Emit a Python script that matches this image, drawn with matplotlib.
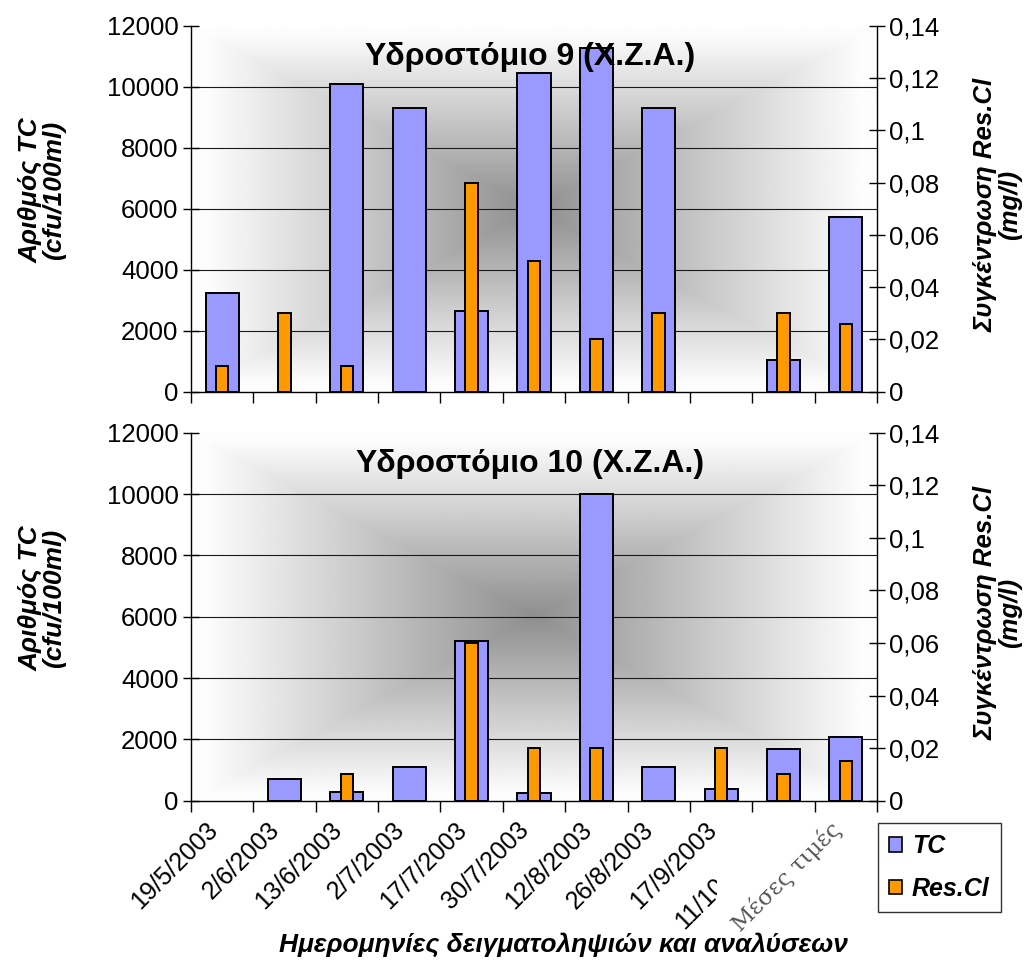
import numpy as np
import matplotlib
matplotlib.use('Agg')
import matplotlib.pyplot as plt
from matplotlib.patches import Patch
from matplotlib.transforms import Bbox, TransformedBbox, ScaledTranslation

plt.rcParams['font.family'] = ['Liberation Sans', 'DejaVu Sans']

# Sampling dates (last column holds the mean values)
categories = ['19/5/2003', '2/6/2003', '13/6/2003', '2/7/2003', '17/7/2003',
              '30/7/2003', '12/8/2003', '26/8/2003', '17/9/2003', '11/10/2003',
              'Μέσες τιμές']

# Hydrant 9: total coliforms (cfu/100ml) and residual chlorine (mg/l)
tc_9 = [3250, 0, 10100, 9300, 2650, 10450, 11270, 9300, 0, 1050, 5730]
cl_9 = [0.01, 0.03, 0.01, 0, 0.08, 0.05, 0.02, 0.03, 0, 0.03, 0.026]

# Hydrant 10
tc_10 = [0, 700, 300, 1100, 5200, 250, 10000, 1100, 370, 1680, 2070]
cl_10 = [0, 0, 0.01, 0, 0.06, 0.02, 0.02, 0, 0.02, 0.01, 0.015]

titles = ['Υδροστόμιο 9 (Χ.Ζ.Α.)', 'Υδροστόμιο 10 (Χ.Ζ.Α.)']
tc_ticks = [0, 2000, 4000, 6000, 8000, 10000, 12000]
cl_ticks = [0, 0.02, 0.04, 0.06, 0.08, 0.10, 0.12, 0.14]
cl_ticklabels = ['0', '0,02', '0,04', '0,06', '0,08', '0,1', '0,12', '0,14']

left_label = 'Αριθμός TC\n(cfu/100ml)'
right_label = 'Συγκέντρωση Res.Cl\n(mg/l)'
x_label = 'Ημερομηνίες δειγματοληψιών και αναλύσεων'
legend_labels = ['TC', 'Res.Cl']

TC_COLOR = '#9999FF'
CL_COLOR = '#FF9900'

W, H = 1036, 963
fig = plt.figure(figsize=(W / 100, H / 100), dpi=100)


def backdrop(ax):
    """Rectangular 'from centre' grey gradient filling the plot area."""
    n = 500
    s = np.linspace(-1, 1, n)
    X, Y = np.meshgrid(s, s)
    t = np.maximum(np.abs(X), np.abs(Y))
    shade = np.minimum(0.56 + 0.45 * t, 0.99)
    ax.imshow(shade, cmap='gray', vmin=0, vmax=1, extent=[0, 1, 0, 1],
              transform=ax.transAxes, aspect='auto', zorder=0,
              interpolation='bilinear')


def draw_bars(ax, values, width, color):
    vals = np.asarray(values, dtype=float)
    keep = vals > 0
    ax.bar(x[keep], vals[keep], width=width, color=color, edgecolor='black',
           linewidth=1.4, zorder=3)


x = np.arange(len(categories))
panels = [
    ([191 / W, 1 - 391.7 / H, 686 / W, 366 / H], tc_9, cl_9, titles[0], False),
    ([191 / W, 1 - 800.7 / H, 686 / W, 368 / H], tc_10, cl_10, titles[1], True),
]

for rect, tc, cl, title, show_dates in panels:
    ax = fig.add_axes(rect)
    backdrop(ax)
    for v in tc_ticks[1:-1]:
        ax.axhline(v, color='#1a1a1a', lw=0.8, zorder=1)
    draw_bars(ax, tc, 0.53, TC_COLOR)
    ax.set_xlim(-0.5, len(categories) - 0.5)
    ax.set_ylim(0, 12000)
    ax.set_yticks(tc_ticks)
    ax.set_yticklabels([str(v) for v in tc_ticks])
    ax.tick_params(axis='y', direction='inout', length=12, width=1,
                   labelsize=18.5, pad=3)
    ax.set_xticks(x)
    ax.set_xticks(np.arange(-0.5, len(categories)), minor=True)
    ax.tick_params(axis='x', which='major', length=0, labelsize=18,
                   pad=12)
    ax.tick_params(axis='x', which='minor', direction='out', length=8,
                   width=1)
    for side in ('top', 'right'):
        ax.spines[side].set_visible(False)
    ax.spines['left'].set_linewidth(1)
    ax.spines['bottom'].set_linewidth(1)

    if show_dates:
        ax.set_xticklabels(categories, rotation=45, ha='right', va='top',
                           rotation_mode='anchor')
        labels = ax.get_xticklabels()
        for i, lab in enumerate(labels):
            dx, dy = -0.17, 0.0
            if i == 9:
                dx, dy = -0.25, -0.12
            lab.set_transform(lab.get_transform() +
                              ScaledTranslation(dx, dy, fig.dpi_scale_trans))
        # the October date is cut off at the edge of its cell
        clip = TransformedBbox(Bbox([[0, 0], [717 / W, 1]]), fig.transFigure)
        labels[9].set_clip_box(clip)
        labels[9].set_clip_on(True)
        labels[10].set_fontfamily('DejaVu Serif')
        labels[10].set_fontsize(16.5)
        labels[10].set_color('#555555')
    else:
        ax.set_xticklabels([])

    ax2 = ax.twinx()
    draw_bars(ax2, cl, 0.2, CL_COLOR)
    ax2.set_ylim(0, 0.14)
    ax2.set_yticks(cl_ticks)
    ax2.set_yticklabels(cl_ticklabels)
    ax2.tick_params(axis='y', direction='inout', length=12, width=1,
                    labelsize=18.5, pad=3)
    ax2.spines['top'].set_visible(False)
    ax2.spines['left'].set_visible(False)
    ax2.spines['bottom'].set_visible(False)
    ax2.spines['right'].set_linewidth(1)

    ax2.text(0.494, 0.915, title, transform=ax2.transAxes, ha='center',
             va='center', fontsize=23, fontweight='bold', zorder=10)

    fig.text(42 / W, rect[1] + rect[3] * 0.55, left_label, rotation=90,
             ha='center', va='center', multialignment='center',
             linespacing=1.0,
             fontsize=19, fontweight='bold', fontstyle='italic')
    fig.text(998 / W, rect[1] + rect[3] * 0.51, right_label, rotation=90,
             ha='center', va='center', multialignment='center',
             linespacing=1.0,
             fontsize=18.5, fontweight='bold', fontstyle='italic')

fig.text(563 / W, 1 - 945 / H, x_label, ha='center', va='center',
         fontsize=19, fontweight='bold', fontstyle='italic')

handles = [Patch(facecolor=TC_COLOR, edgecolor='black', linewidth=1.2),
           Patch(facecolor=CL_COLOR, edgecolor='black', linewidth=1.2)]
leg = fig.legend(handles, legend_labels, loc='upper left',
                 bbox_to_anchor=(878 / W, 1 - 823 / H),
                 prop={'size': 18, 'weight': 'bold', 'style': 'italic'},
                 fancybox=False, frameon=True, edgecolor='black',
                 handlelength=0.5, handleheight=0.5, handletextpad=0.4,
                 labelspacing=0.75, borderpad=0.45, borderaxespad=0)
leg.get_frame().set_linewidth(1)

fig.savefig('out.png', dpi=100)
